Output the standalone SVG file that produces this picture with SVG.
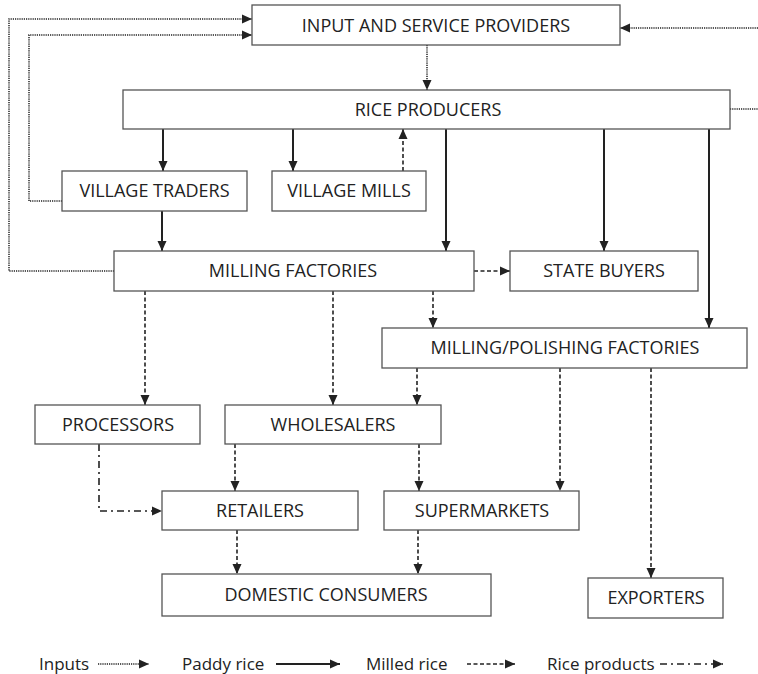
<svg xmlns="http://www.w3.org/2000/svg" width="758" height="674" viewBox="0 0 758 674">
<style>
.box{fill:#fff;stroke:#555;stroke-width:1.3}
.lbl{font-family:"Open Sans","Liberation Sans",sans-serif;font-size:18px;fill:#222;text-anchor:middle}
.leg{font-family:"Open Sans","Liberation Sans",sans-serif;font-size:17px;fill:#222}
.c{fill:none;stroke:#222}
.dot{stroke-width:1.5;stroke-dasharray:1.2 1}
.sol{stroke-width:2}
.dash{stroke-width:1.6;stroke-dasharray:4 2.5}
.dd{stroke-width:1.6;stroke-dasharray:7 4 2 4}
</style>
<defs>
<marker id="ah" markerUnits="userSpaceOnUse" markerWidth="10" markerHeight="10" viewBox="0 0 10 10" refX="10" refY="5" orient="auto">
<path d="M0,0.5 L10,5 L0,9.5 Z" fill="#222"/>
</marker>
</defs>
<rect width="758" height="674" fill="#fff"/>
<g id="connectors">
<polyline class="c dot" points="114,271 9,271 9,19 252,19" marker-end="url(#ah)"/>
<polyline class="c dot" points="62,201 29,201 29,35 252,35" marker-end="url(#ah)"/>
<line class="c dot" x1="758" y1="28" x2="620" y2="28" marker-end="url(#ah)"/>
<line class="c dot" x1="730" y1="109" x2="758" y2="109"/>
<line class="c dot" x1="427" y1="45" x2="427" y2="90" marker-end="url(#ah)"/>
<line class="c sol" x1="163" y1="129" x2="163" y2="171" marker-end="url(#ah)"/>
<line class="c sol" x1="293" y1="129" x2="293" y2="171" marker-end="url(#ah)"/>
<line class="c dash" x1="403" y1="171" x2="403" y2="129" marker-end="url(#ah)"/>
<line class="c sol" x1="446" y1="129" x2="446" y2="251" marker-end="url(#ah)"/>
<line class="c sol" x1="604" y1="129" x2="604" y2="251" marker-end="url(#ah)"/>
<line class="c sol" x1="709" y1="129" x2="709" y2="328" marker-end="url(#ah)"/>
<line class="c sol" x1="162" y1="211" x2="162" y2="251" marker-end="url(#ah)"/>
<line class="c dash" x1="474" y1="271" x2="510" y2="271" marker-end="url(#ah)"/>
<line class="c dash" x1="145" y1="291" x2="145" y2="405" marker-end="url(#ah)"/>
<line class="c dash" x1="333" y1="291" x2="333" y2="405" marker-end="url(#ah)"/>
<line class="c dash" x1="433" y1="291" x2="433" y2="328" marker-end="url(#ah)"/>
<line class="c dash" x1="417" y1="368" x2="417" y2="405" marker-end="url(#ah)"/>
<line class="c dash" x1="560" y1="368" x2="560" y2="491" marker-end="url(#ah)"/>
<line class="c dash" x1="651" y1="368" x2="651" y2="578" marker-end="url(#ah)"/>
<line class="c dash" x1="235" y1="444" x2="235" y2="491" marker-end="url(#ah)"/>
<line class="c dash" x1="419" y1="444" x2="419" y2="491" marker-end="url(#ah)"/>
<polyline class="c dd" points="99,444 99,511 162,511" marker-end="url(#ah)"/>
<line class="c dash" x1="237" y1="530" x2="237" y2="574" marker-end="url(#ah)"/>
<line class="c dash" x1="418" y1="530" x2="418" y2="574" marker-end="url(#ah)"/>
</g>
<g id="input-providers"><rect class="box" x="252" y="5" width="368" height="40"/><text class="lbl" x="436" y="32">INPUT AND SERVICE PROVIDERS</text></g>
<g id="rice-producers"><rect class="box" x="123" y="90" width="607" height="39"/><text class="lbl" x="428" y="116">RICE PRODUCERS</text></g>
<g id="village-traders"><rect class="box" x="62" y="171" width="185" height="40"/><text class="lbl" x="154.5" y="197">VILLAGE TRADERS</text></g>
<g id="village-mills"><rect class="box" x="272" y="171" width="154" height="40"/><text class="lbl" x="349" y="197">VILLAGE MILLS</text></g>
<g id="milling-factories"><rect class="box" x="114" y="251" width="360" height="40"/><text class="lbl" x="293" y="277">MILLING FACTORIES</text></g>
<g id="state-buyers"><rect class="box" x="510" y="251" width="188" height="40"/><text class="lbl" x="604" y="277">STATE BUYERS</text></g>
<g id="milling-polishing"><rect class="box" x="382" y="328" width="365" height="40"/><text class="lbl" x="565" y="354">MILLING/POLISHING FACTORIES</text></g>
<g id="processors"><rect class="box" x="35" y="405" width="165" height="39"/><text class="lbl" x="118" y="431">PROCESSORS</text></g>
<g id="wholesalers"><rect class="box" x="225" y="405" width="216" height="39"/><text class="lbl" x="333" y="431">WHOLESALERS</text></g>
<g id="retailers"><rect class="box" x="162" y="491" width="196" height="39"/><text class="lbl" x="260" y="517">RETAILERS</text></g>
<g id="supermarkets"><rect class="box" x="384" y="491" width="195" height="39"/><text class="lbl" x="482" y="517">SUPERMARKETS</text></g>
<g id="domestic-consumers"><rect class="box" x="162" y="574" width="329" height="42"/><text class="lbl" x="326" y="601">DOMESTIC CONSUMERS</text></g>
<g id="exporters"><rect class="box" x="588" y="578" width="135" height="40"/><text class="lbl" x="656" y="604">EXPORTERS</text></g>
<g id="legend">
<text class="leg" x="39" y="670">Inputs</text>
<line class="c dot" x1="98" y1="664" x2="149" y2="664" marker-end="url(#ah)"/>
<text class="leg" x="182" y="670">Paddy rice</text>
<line class="c sol" x1="276" y1="664" x2="340" y2="664" marker-end="url(#ah)"/>
<text class="leg" x="366" y="670">Milled rice</text>
<line class="c dash" x1="467" y1="664" x2="515" y2="664" marker-end="url(#ah)"/>
<text class="leg" x="547" y="670">Rice products</text>
<line class="c dd" x1="660" y1="664" x2="723" y2="664" marker-end="url(#ah)"/>
</g>
</svg>
